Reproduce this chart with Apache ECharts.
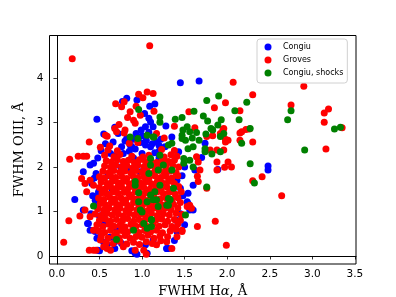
<!DOCTYPE html>
<html>
<head>
<meta charset="utf-8">
<script src="https://cdn.jsdelivr.net/npm/echarts@6/dist/echarts.min.js"></script>
<style>html,body{margin:0;padding:0;background:#fff}#c{width:396px;height:297px}</style>
</head>
<body>
<div id="c"></div>
<script>
var xTicks = [0, 0.5, 1.0, 1.5, 2.0, 2.5, 3.0, 3.5];
var yTicks = [0, 1, 2, 3, 4];
var seriesNames = ['Congiu', 'Groves', 'Congiu, shocks'];

var congiu = [
[1.45,3.89],[1.67,3.93],[0.47,3.07],[0.77,3.47],[0.82,3.54],[0.94,3.50],[1.09,3.36],[1.15,3.41],[1.03,3.20],[1.08,3.09],
[1.10,3.01],[1.04,2.90],[1.13,2.90],[1.28,2.92],[0.68,2.89],[0.55,2.74],[0.72,2.75],[0.82,2.64],[0.93,2.75],[2.48,2.02],
[2.48,1.93],[1.89,1.94],[1.74,2.53],[1.70,2.21],[1.62,1.93],[1.60,1.03],[1.54,1.18],[0.39,2.04],[0.43,2.08],[0.31,1.89],
[0.41,1.63],[0.49,1.44],[0.47,1.11],[0.31,1.03],[0.36,0.73],[0.39,0.58],[0.51,0.43],[0.59,0.25],[0.68,0.17],[0.92,0.06],
[1.06,0.06],[1.31,0.17],[1.56,1.03],[1.54,1.41],[1.60,1.59],[0.21,1.27],[0.76,2.45],[0.86,2.49],[1.04,2.49],[1.10,2.45],
[1.17,2.56],[1.27,2.45],[1.35,2.67],[0.63,2.30],[0.70,2.26],[0.66,2.56],[0.88,2.45],[0.94,2.67],[0.86,1.93],[0.98,1.89],
[0.51,1.44],[0.55,0.73],[0.70,0.62],[0.76,0.28],[1.04,0.25],[1.13,0.36],[1.53,1.22],[1.56,1.07],[1.66,2.19],[1.43,2.34],
[1.41,1.70],[1.45,1.52],[0.37,0.73],[0.48,0.13],[0.68,0.32],[0.88,0.12],[1.29,0.17],[1.41,0.55],[0.94,0.04],[0.50,0.12],
[0.49,1.41],[0.55,0.96],[0.60,1.80],[0.75,2.00],[0.90,2.20],[1.20,2.20],[1.30,1.90],[0.65,1.50],[1.35,1.20],[1.40,0.80],
[0.50,0.90],[0.45,1.25],[1.48,1.35],[1.45,0.95],[1.38,0.35],[0.62,0.42],[0.45,0.55],[1.00,2.30],[1.20,2.35],[1.30,2.10],
[0.46,1.85],[0.48,2.20],[0.52,2.36],[1.29,0.17],[1.50,0.70],[1.47,1.80],[1.50,2.00],[0.57,2.52],[1.22,2.62],[0.99,2.83],
[0.85,2.35],[0.92,2.40],[0.98,2.55],[1.05,2.60],[1.12,2.52],[0.80,2.58],[1.20,2.48],[0.90,2.62],[1.00,2.70],[1.08,2.78],
[0.78,2.30],[1.15,2.32],[0.42,1.35],[0.44,1.75],[0.40,0.95],[0.47,0.40],[0.55,0.30]
];

var groves = [
[0.18,4.43],[1.09,4.72],[2.07,3.90],[1.98,3.44],[1.85,3.33],[2.15,3.26],[0.69,3.42],[0.79,3.46],[0.76,3.35],[0.96,3.63],
[1.01,3.55],[1.06,3.68],[1.13,3.65],[0.93,3.36],[0.86,3.24],[0.98,3.16],[1.14,3.25],[0.83,3.11],[0.90,3.05],[0.92,2.98],
[0.73,2.95],[0.68,2.86],[0.80,2.83],[1.38,2.91],[1.55,3.24],[1.62,2.88],[1.76,2.68],[1.83,2.70],[1.95,2.84],[1.98,2.62],
[2.15,2.60],[2.17,2.79],[2.22,2.84],[2.26,2.85],[2.01,2.60],[0.38,2.56],[0.51,2.44],[0.62,2.47],[0.59,2.69],[0.79,2.76],
[0.85,2.53],[0.95,2.55],[1.17,2.75],[1.26,2.65],[2.90,3.81],[2.30,3.62],[2.75,3.39],[3.19,3.30],[3.14,3.21],[3.14,3.00],
[3.35,2.88],[3.16,2.40],[2.15,2.76],[2.30,2.56],[1.98,2.56],[1.96,2.86],[1.92,2.75],[1.88,2.11],[2.01,2.11],[1.97,1.99],
[2.41,1.78],[2.30,1.69],[2.64,1.35],[1.86,0.78],[1.65,0.66],[1.99,0.24],[1.47,0.55],[1.80,2.38],[1.88,2.38],[1.96,2.38],
[1.64,2.23],[1.66,2.11],[1.68,1.93],[1.65,1.79],[1.66,1.67],[1.53,1.11],[1.56,1.14],[1.58,1.07],[0.08,0.31],[0.14,0.79],
[0.27,0.90],[0.25,2.24],[0.31,2.24],[0.35,2.24],[0.15,2.17],[0.70,2.79],[0.57,2.71],[0.29,1.74],[0.33,1.63],[0.39,1.70],
[0.43,1.59],[0.35,1.44],[0.33,1.03],[0.39,0.88],[0.43,0.58],[0.51,0.36],[0.55,0.21],[0.43,0.13],[0.63,0.13],[0.78,0.21],
[1.02,0.13],[1.17,0.25],[1.29,0.32],[1.41,0.43],[1.47,0.58],[1.76,1.52],[1.88,1.93],[2.05,2.00],[0.38,0.13],[0.46,0.13],
[1.05,0.04],[1.35,0.17],[0.59,0.17],[0.92,0.13],
[0.58,0.30],[0.66,0.28],[0.74,0.33],[0.82,0.27],[0.90,0.31],[0.97,0.26],[1.05,0.32],[1.12,0.28],[1.22,0.34],
[0.52,0.44],[0.60,0.40],[0.67,0.45],[0.73,0.41],[0.80,0.46],[0.86,0.40],[0.93,0.44],[1.00,0.42],[1.07,0.47],[1.14,0.40],[1.21,0.45],[1.30,0.43],
[0.49,0.56],[0.56,0.53],[0.63,0.58],[0.70,0.52],[0.76,0.57],[0.83,0.54],[0.89,0.59],[0.96,0.53],[1.03,0.57],[1.10,0.54],[1.17,0.58],[1.24,0.52],[1.33,0.56],[1.40,0.60],
[0.47,0.70],[0.54,0.66],[0.61,0.71],[0.67,0.67],[0.74,0.69],[0.80,0.65],[0.87,0.71],[0.93,0.67],[1.00,0.70],[1.06,0.66],[1.13,0.72],[1.20,0.67],[1.27,0.70],[1.35,0.66],[1.42,0.72],
[0.50,0.80],[0.57,0.83],[0.63,0.78],[0.70,0.82],[0.77,0.79],[0.83,0.84],[0.90,0.78],[0.96,0.82],[1.03,0.79],[1.09,0.84],[1.16,0.80],[1.23,0.83],[1.30,0.78],[1.38,0.82],[1.45,0.80],
[0.45,0.94],[0.52,0.91],[0.59,0.96],[0.65,0.92],[0.72,0.95],[0.78,0.90],[0.85,0.96],[0.91,0.92],[0.98,0.94],[1.04,0.90],[1.11,0.96],[1.18,0.91],[1.25,0.95],[1.32,0.92],[1.40,0.96],[1.47,0.93],
[0.48,1.06],[0.55,1.03],[0.61,1.08],[0.68,1.04],[0.74,1.07],[0.81,1.02],[0.87,1.08],[0.94,1.04],[1.00,1.06],[1.07,1.02],[1.14,1.08],[1.20,1.03],[1.27,1.07],[1.34,1.04],[1.42,1.08],
[0.51,1.18],[0.57,1.15],[0.64,1.20],[0.70,1.16],[0.77,1.19],[0.83,1.14],[0.90,1.20],[0.96,1.16],[1.03,1.18],[1.09,1.14],[1.16,1.20],[1.23,1.15],[1.30,1.19],[1.37,1.16],[1.45,1.20],
[0.49,1.30],[0.55,1.27],[0.62,1.32],[0.68,1.28],[0.75,1.31],[0.81,1.26],[0.88,1.32],[0.94,1.28],[1.01,1.30],[1.08,1.26],[1.14,1.32],[1.21,1.28],[1.28,1.31],[1.35,1.27],[1.42,1.31],
[0.53,1.42],[0.59,1.39],[0.66,1.44],[0.72,1.40],[0.79,1.43],[0.85,1.38],[0.92,1.44],[0.98,1.40],[1.05,1.42],[1.12,1.38],[1.18,1.44],[1.25,1.40],[1.32,1.43],[1.39,1.39],[1.46,1.44],
[0.50,1.54],[0.57,1.51],[0.63,1.56],[0.70,1.52],[0.76,1.55],[0.83,1.50],[0.89,1.56],[0.96,1.52],[1.02,1.54],[1.09,1.50],[1.16,1.56],[1.22,1.52],[1.29,1.55],[1.36,1.51],[1.43,1.56],
[0.52,1.66],[0.59,1.63],[0.65,1.68],[0.72,1.64],[0.78,1.67],[0.85,1.62],[0.91,1.68],[0.98,1.64],[1.04,1.66],[1.11,1.62],[1.18,1.68],[1.24,1.64],[1.31,1.67],[1.38,1.63],
[0.50,1.78],[0.56,1.75],[0.63,1.80],[0.69,1.76],[0.76,1.79],[0.82,1.74],[0.89,1.80],[0.95,1.76],[1.02,1.78],[1.08,1.74],[1.15,1.80],[1.22,1.76],[1.28,1.79],[1.35,1.75],[1.42,1.80],
[0.54,1.90],[0.61,1.87],[0.67,1.92],[0.74,1.88],[0.80,1.91],[0.87,1.86],[0.93,1.92],[1.00,1.88],[1.06,1.90],[1.13,1.86],[1.20,1.92],[1.26,1.88],[1.33,1.91],[1.40,1.87],
[0.56,2.02],[0.63,1.99],[0.69,2.04],[0.76,2.00],[0.82,2.03],[0.89,1.98],[0.95,2.04],[1.02,2.00],[1.08,2.02],[1.15,1.98],[1.22,2.04],[1.28,2.00],[1.36,2.03],[1.43,2.00],
[0.58,2.14],[0.64,2.11],[0.71,2.16],[0.78,2.12],[0.84,2.15],[0.91,2.10],[0.97,2.16],[1.04,2.12],[1.10,2.14],[1.17,2.10],[1.24,2.16],[1.31,2.12],[1.38,2.15],
[0.56,2.26],[0.67,2.23],[0.74,2.28],[0.88,2.24],[1.01,2.22],[1.08,2.26],[1.26,2.22],[1.34,2.27],[1.41,2.24],
[0.60,2.38],[0.71,2.36],[1.23,2.39],[1.38,2.37]
];

var shocks = [
[1.76,3.49],[1.90,3.59],[2.23,3.45],[2.09,3.26],[0.96,3.29],[1.21,3.12],[1.21,3.00],[1.39,3.07],[1.47,3.11],[1.61,3.25],
[1.72,3.14],[1.77,3.03],[1.93,3.06],[1.89,2.94],[1.81,2.86],[1.75,2.74],[1.83,2.83],[2.14,3.06],[1.48,2.83],[1.53,2.90],
[1.56,2.79],[1.64,2.77],[1.59,2.65],[1.67,2.60],[1.47,2.71],[1.51,2.60],[1.96,2.75],[1.92,2.68],[2.17,2.53],[2.27,2.86],
[0.86,2.67],[0.95,2.64],[1.14,2.67],[1.31,2.49],[1.35,2.53],[2.75,3.26],[2.71,3.06],[3.26,2.85],[3.33,2.89],[2.91,2.38],
[2.27,2.07],[2.32,1.64],[1.76,1.55],[1.92,2.34],[1.82,2.29],[1.74,2.34],[1.54,2.41],[1.56,2.15],[1.60,2.00],[1.49,2.19],
[1.51,0.92],[0.43,1.12],[0.70,0.37],[0.92,1.59],[0.96,1.42],[1.10,1.37],[1.15,1.44],[1.21,1.59],[1.37,1.52],[1.31,1.29],
[1.31,1.14],[1.17,1.26],[1.19,1.11],[1.06,1.22],[1.00,0.99],[0.98,1.03],[1.02,0.73],[1.11,0.81],[1.06,0.62],[0.90,0.58],
[1.11,0.66],[1.06,2.71],[1.13,2.67],[1.47,2.64],[1.60,2.45],[1.74,2.41],[1.10,2.19],[1.21,2.26],[1.25,2.04],[1.10,2.04],
[1.08,1.85],[1.19,1.93],[1.35,1.93],[1.49,2.08],[0.92,1.67],[1.33,1.26],[0.96,1.22],[1.13,1.26],[1.29,1.14],[1.11,0.82]
];

var colors = ['#0000ff', '#ff0000', '#008000'];
var allData = [congiu, groves, shocks];

var chart = echarts.init(document.getElementById('c'), null, {renderer: 'canvas'});
var series = allData.map(function (d, i) {
  return {
    name: seriesNames[i],
    type: 'scatter',
    data: d,
    symbol: 'circle',
    symbolSize: 7,
    itemStyle: {color: colors[i], opacity: 1},
    emphasis: {disabled: true},
    animation: false,
    z: 2 + i
  };
});

chart.setOption({
  animation: false,
  backgroundColor: '#fff',
  grid: {left: 49.5, right: 40, top: 35.5, bottom: 33, show: true, borderColor: '#000', borderWidth: 1,
    backgroundColor: 'transparent', containLabel: false, outerBoundsMode: 'none'},
  legend: {
    data: seriesNames,
    orient: 'vertical',
    left: 257,
    top: 39,
    icon: 'circle',
    itemWidth: 7,
    itemHeight: 7,
    itemGap: 3,
    padding: [3, 4, 5, 7.5],
    backgroundColor: '#fff',
    borderColor: '#d0d0d0',
    borderWidth: 1,
    borderRadius: 3,
    selectedMode: false,
    textStyle: {fontFamily: 'DejaVu Sans', fontSize: 8, color: '#000', lineHeight: 10, padding: [0, 0, 0, 6.5]}
  },
  xAxis: {
    type: 'value',
    min: -0.087,
    max: 3.513,
    name: 'FWHM H{i|α}, Å',
    nameLocation: 'middle',
    nameGap: 19,
    nameTextStyle: {fontFamily: 'DejaVu Serif', fontSize: 13, color: '#000', rich: {i: {fontFamily: 'DejaVu Serif', fontStyle: 'italic', fontSize: 13, color: '#000'}}},
    splitLine: {show: false},
    axisLine: {show: true, lineStyle: {color: '#000', width: 1}},
    axisTick: {show: true, inside: false, length: 3.5, lineStyle: {color: '#000', width: 0.8}, customValues: xTicks},
    axisLabel: {customValues: xTicks, margin: 5, fontFamily: 'DejaVu Sans', fontSize: 10.5, color: '#000',
      formatter: function (v) { return v.toFixed(1); }}
  },
  yAxis: {
    type: 'value',
    min: -0.18,
    max: 4.95,
    name: 'FWHM OIII, Å',
    nameLocation: 'middle',
    nameGap: 18,
    nameTextStyle: {fontFamily: 'DejaVu Serif', fontSize: 13, color: '#000'},
    splitLine: {show: false},
    axisLine: {show: true, lineStyle: {color: '#000', width: 1}},
    axisTick: {show: true, inside: false, length: 3.5, lineStyle: {color: '#000', width: 0.8}, customValues: yTicks},
    axisLabel: {customValues: yTicks, margin: 6, fontFamily: 'DejaVu Sans', fontSize: 10.5, color: '#000',
      formatter: function (v) { return String(Math.round(v)); }}
  },
  series: series
});
</script>
</body>
</html>
